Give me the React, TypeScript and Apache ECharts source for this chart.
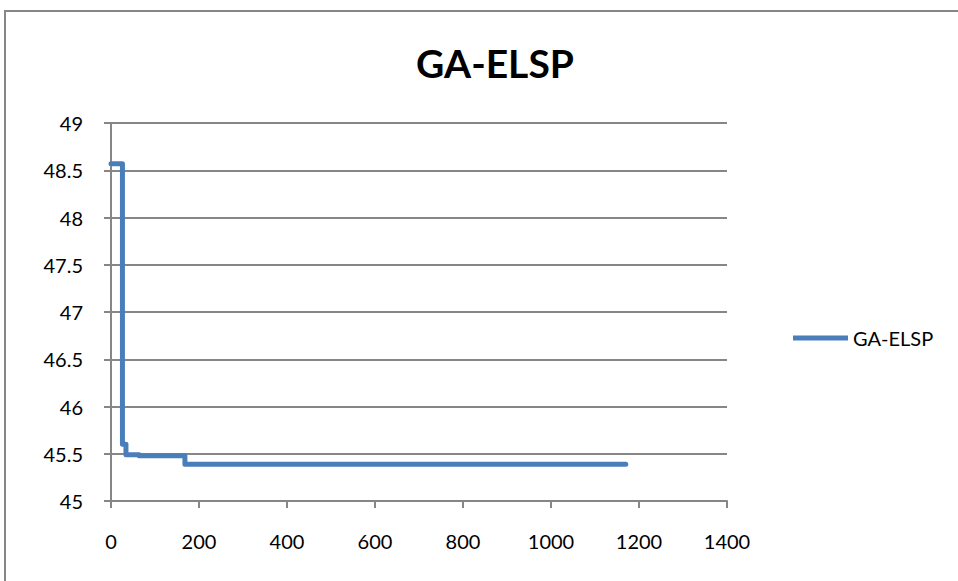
import React, { useEffect, useRef } from "react";
import * as echarts from "echarts";

// Iteration at which each new best value was reached, and that value
const iterations = [0, 26, 34, 64, 168, 1170];
const bestFitness = [48.57, 45.6, 45.49, 45.48, 45.39, 45.39];

const xTicks = [0, 200, 400, 600, 800, 1000, 1200, 1400];
const yTicks = [45, 45.5, 46, 46.5, 47, 47.5, 48, 48.5, 49];

const seriesName = "GA-ELSP";
const titleText = "GA-ELSP";

export default function App() {
  const ref = useRef<HTMLDivElement>(null);

  useEffect(() => {
    if (!ref.current) return;
    const chart = echarts.init(ref.current, undefined, { renderer: "svg" });
    const axisGrey = "#868686";
    const font = "Lato, 'Open Sans', sans-serif";
    chart.setOption({
      animation: false,
      backgroundColor: "#ffffff",
      title: {
        text: titleText,
        left: 490,
        top: 38,
        textAlign: "center",
        textStyle: { fontFamily: font, fontWeight: "bold", fontSize: 39, color: "#000" },
      },
      graphic: [
        {
          type: "rect",
          shape: { x: 5, y: 11, width: 970, height: 600 },
          style: { fill: "none", stroke: axisGrey, lineWidth: 2 },
          silent: true,
        },
      ],
      legend: {
        left: 793,
        top: 328,
        padding: 0,
        itemWidth: 55,
        itemHeight: 5,
        icon: "rect",
        textStyle: { fontFamily: font, fontSize: 20, color: "#000" },
        data: [seriesName],
      },
      grid: { left: 111, top: 123, right: 231, bottom: 80, containLabel: false },
      xAxis: {
        type: "value",
        min: xTicks[0],
        max: xTicks[xTicks.length - 1],
        interval: 200,
        axisLine: { show: true, lineStyle: { color: axisGrey, width: 2 } },
        axisTick: { show: true, length: 7, lineStyle: { color: axisGrey, width: 2 } },
        splitLine: { show: false },
        axisLabel: {
          fontFamily: font,
          fontSize: 20,
          color: "#000",
          margin: 30,
          formatter: (v: number) => String(v),
        },
      },
      yAxis: {
        type: "value",
        min: yTicks[0],
        max: yTicks[yTicks.length - 1],
        interval: 0.5,
        axisLine: { show: true, lineStyle: { color: axisGrey, width: 2 } },
        axisTick: { show: true, length: 7, lineStyle: { color: axisGrey, width: 2 } },
        splitLine: { show: true, lineStyle: { color: axisGrey, width: 2 } },
        axisLabel: {
          fontFamily: font,
          fontSize: 20,
          color: "#000",
          margin: 28,
          formatter: (v: number) => String(v),
        },
      },
      series: [
        {
          name: seriesName,
          type: "line",
          step: "end",
          showSymbol: false,
          symbol: "none",
          data: iterations.map((x, i) => [x, bestFitness[i]]),
          lineStyle: { color: "#4a7ebb", width: 5, join: "round", cap: "round" },
          itemStyle: { color: "#4a7ebb" },
        },
      ],
    });
    return () => chart.dispose();
  }, []);

  return (
    <div
      ref={ref}
      style={{ position: "fixed", left: 0, top: 0, width: 958, height: 581 }}
    />
  );
}
